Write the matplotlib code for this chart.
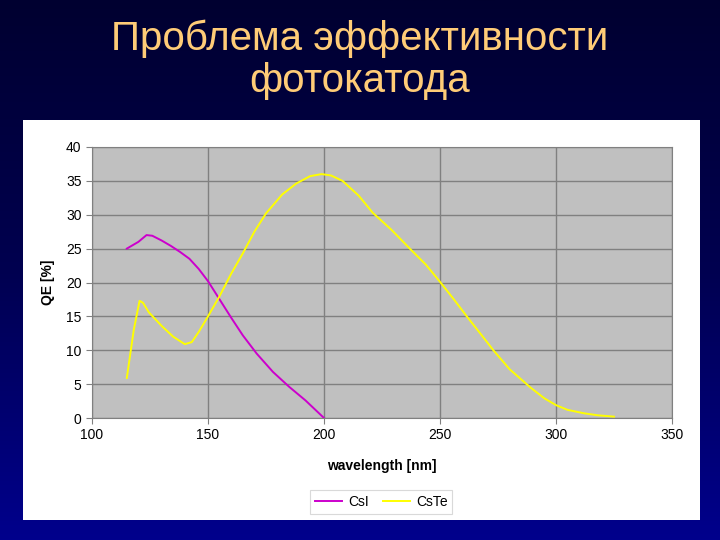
import matplotlib.pyplot as plt
import numpy as np
from matplotlib.patches import Rectangle
from matplotlib.colors import LinearSegmentedColormap

plt.rcParams['font.family'] = ['Liberation Sans', 'DejaVu Sans']

# CsI photocathode QE
csi_wl = [115, 120, 123.5, 126, 130, 134, 138, 142, 146, 150, 155, 160, 165, 171, 178, 185, 192, 200]
csi_qe = [25.0, 26.0, 27.0, 26.9, 26.2, 25.4, 24.5, 23.5, 22.0, 20.2, 17.5, 14.8, 12.2, 9.5, 6.8, 4.6, 2.6, 0.0]

# CsTe photocathode QE
cste_wl = [115, 118, 120.5, 122, 124.5, 130, 135, 140, 143, 146, 150, 155, 160, 165, 170, 175, 182, 188, 194,
           199, 203, 208, 215, 221, 229, 237, 244, 250, 256, 262, 268, 273, 280, 289, 295, 300, 305, 312, 318, 325]
cste_qe = [5.9, 13.0, 17.3, 17.0, 15.6, 13.6, 12.0, 10.9, 11.2, 12.7, 15.0, 18.0, 21.3, 24.3, 27.5, 30.2, 33.0, 34.6, 35.7,
           36.0, 35.8, 35.0, 32.8, 30.3, 27.8, 25.0, 22.6, 20.1, 17.5, 14.8, 12.2, 10.0, 7.2, 4.5, 2.9, 1.9, 1.2, 0.7, 0.4, 0.2]

fig = plt.figure(figsize=(7.2, 5.4), dpi=100)

# navy gradient background
bg = fig.add_axes([0, 0, 1, 1], zorder=-10)
grad = np.linspace(0, 1, 256).reshape(-1, 1)
cmap = LinearSegmentedColormap.from_list('navy', ['#000030', '#000050', '#00008c'])
bg.imshow(grad, aspect='auto', cmap=cmap, extent=[0, 1, 0, 1])
bg.axis('off')

# white panel
fig.patches.append(Rectangle((23 / 720, 1 - 520 / 540), 677 / 720, 400 / 540,
                             transform=fig.transFigure, facecolor='white', edgecolor='none', zorder=-5))

fig.text(0.5, 1 - 50 / 540, 'Проблема эффективности', ha='center', va='baseline', fontsize=29, color='#ffcc77')
fig.text(0.5, 1 - 92 / 540, 'фотокатода', ha='center', va='baseline', fontsize=29, color='#ffcc77')

ax = fig.add_axes([92 / 720, 1 - 418 / 540, 580 / 720, 271 / 540])
ax.set_facecolor('#c0c0c0')
ax.plot(csi_wl, csi_qe, color='#cc00cc', lw=1.4, label='CsI')
ax.plot(cste_wl, cste_qe, color='#ffff00', lw=1.4, label='CsTe')
ax.set_xlim(100, 350)
ax.set_ylim(0, 40)
ax.set_xticks(range(100, 351, 50))
ax.set_yticks(range(0, 41, 5))
ax.grid(True, color='#808080', lw=1)
ax.set_axisbelow(True)
for s in ax.spines.values():
    s.set_color('#808080')
ax.tick_params(labelsize=10, color='#808080', length=4)
ax.set_xlabel('wavelength [nm]', fontsize=10, fontweight='bold', labelpad=12)
ax.set_ylabel('QE [%]', fontsize=10, fontweight='bold', labelpad=8)

leg = ax.legend(loc='center', bbox_to_anchor=(381 / 720, 1 - 502 / 540), bbox_transform=fig.transFigure,
                ncol=2, fontsize=10, frameon=True, fancybox=False, handlelength=2.0, handletextpad=0.4,
                columnspacing=1.0, borderpad=0.35, borderaxespad=0)
leg.get_frame().set_edgecolor('#d0d0d0')
leg.get_frame().set_linewidth(0.8)

fig.savefig('out.png', dpi=100)
